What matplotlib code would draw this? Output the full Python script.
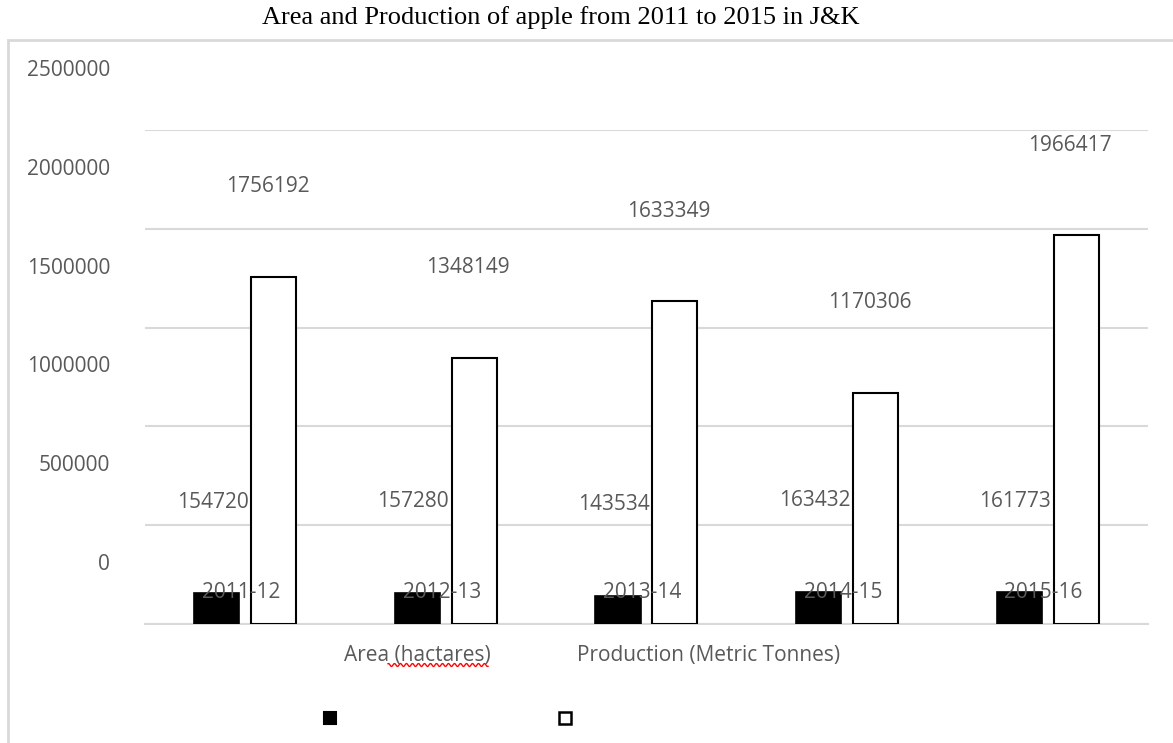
import numpy as np
import matplotlib
matplotlib.use("Agg")
import matplotlib.pyplot as plt
import matplotlib.transforms as mtransforms
from matplotlib.patches import Rectangle
from matplotlib.lines import Line2D

years = ["2011-12", "2012-13", "2013-14", "2014-15", "2015-16"]
area_ha = [154720, 157280, 143534, 163432, 161773]
production_mt = [1756192, 1348149, 1633349, 1170306, 1966417]
y_ticks = [0, 500000, 1000000, 1500000, 2000000, 2500000]

text_grey = "#595959"
grid_grey = "#d9d9d9"
plt.rcParams['font.family'] = ['Open Sans', 'DejaVu Sans']

fig = plt.figure(figsize=(11.73, 7.43), dpi=100)
ax = fig.add_axes([0.1236, 0.1602, 0.855, 0.6649])

x = np.arange(len(years))
w = 0.225
off = 0.142
ax.bar(x - off, area_ha, w, color="black", edgecolor="black", linewidth=1.2, zorder=3)
ax.bar(x + off, production_mt, w, color="white", edgecolor="black", linewidth=1.5, zorder=3)

ax.set_xlim(-0.5, len(years) - 0.5)
ax.set_ylim(0, 2500000)
ax.set_yticks(y_ticks)
ax.set_yticklabels([str(v) for v in y_ticks])
ax.set_xticks(x)
ax.set_xticklabels(years)
ax.grid(axis="y", color=grid_grey, linewidth=1.5, zorder=0)
for s in ["top", "left", "right"]:
    ax.spines[s].set_visible(False)
ax.spines["bottom"].set_color(grid_grey)
ax.spines["bottom"].set_linewidth(1.5)
ax.tick_params(axis="both", length=0, labelsize=15, labelcolor=text_grey)
ax.tick_params(axis="y", pad=25)
ax.tick_params(axis="x", pad=0)
# category names are drawn on top of the bars
ax.xaxis.set_zorder(5)

# labels sit shifted up from their usual spots
up_y = mtransforms.ScaledTranslation(0, 62 / 100, fig.dpi_scale_trans)
for lab in ax.get_yticklabels():
    lab.set_transform(lab.get_transform() + up_y)
up_x = mtransforms.ScaledTranslation(-4 / 100, 31 / 100, fig.dpi_scale_trans)
for lab in ax.get_xticklabels():
    lab.set_verticalalignment("center")
    lab.set_transform(lab.get_transform() + up_x)

for i in range(len(years)):
    ax.annotate(str(area_ha[i]), xy=(x[i] - off, area_ha[i]), xytext=(-4, 91),
                textcoords="offset pixels", ha="center", va="center",
                fontsize=15, color=text_grey)
    ax.annotate(str(production_mt[i]), xy=(x[i] + off, production_mt[i]), xytext=(-6, 90),
                textcoords="offset pixels", ha="center", va="center",
                fontsize=15, color=text_grey)

fig.text(0.478, 0.976, "Area and Production of apple from 2011 to 2015 in J&K",
         ha="center", va="center", fontsize=19, family="Liberation Serif")

# outer chart frame
fig.add_artist(Rectangle((8 / 1173, -0.05), 1.2, 1 - 40 / 743 + 0.05,
                         transform=fig.transFigure, fill=False,
                         edgecolor=grid_grey, linewidth=2))

# legend
fig.text(417 / 1173, 1 - 656 / 743, "Area (hactares)", ha="center", va="center",
         fontsize=15, color=text_grey)
fig.text(709 / 1173, 1 - 656 / 743, "Production (Metric Tonnes)", ha="center", va="center",
         fontsize=15, color=text_grey)
fig.add_artist(Line2D([330 / 1173], [1 - 718 / 743], marker="s", markersize=9,
                      color="black", markeredgewidth=1.5, transform=fig.transFigure))
fig.add_artist(Line2D([565 / 1173], [1 - 718 / 743], marker="s", markersize=9,
                      markerfacecolor="white", markeredgecolor="black",
                      markeredgewidth=1.8, transform=fig.transFigure))

# spell-check squiggle under "hactares"
sx = np.linspace(388, 488, 120)
sy = 665 + 1.5 * np.sin(sx * 2 * np.pi / 6)
fig.add_artist(Line2D(sx / 1173, 1 - sy / 743, color="red", linewidth=1,
                      transform=fig.transFigure))

fig.savefig("out.png", dpi=100)
